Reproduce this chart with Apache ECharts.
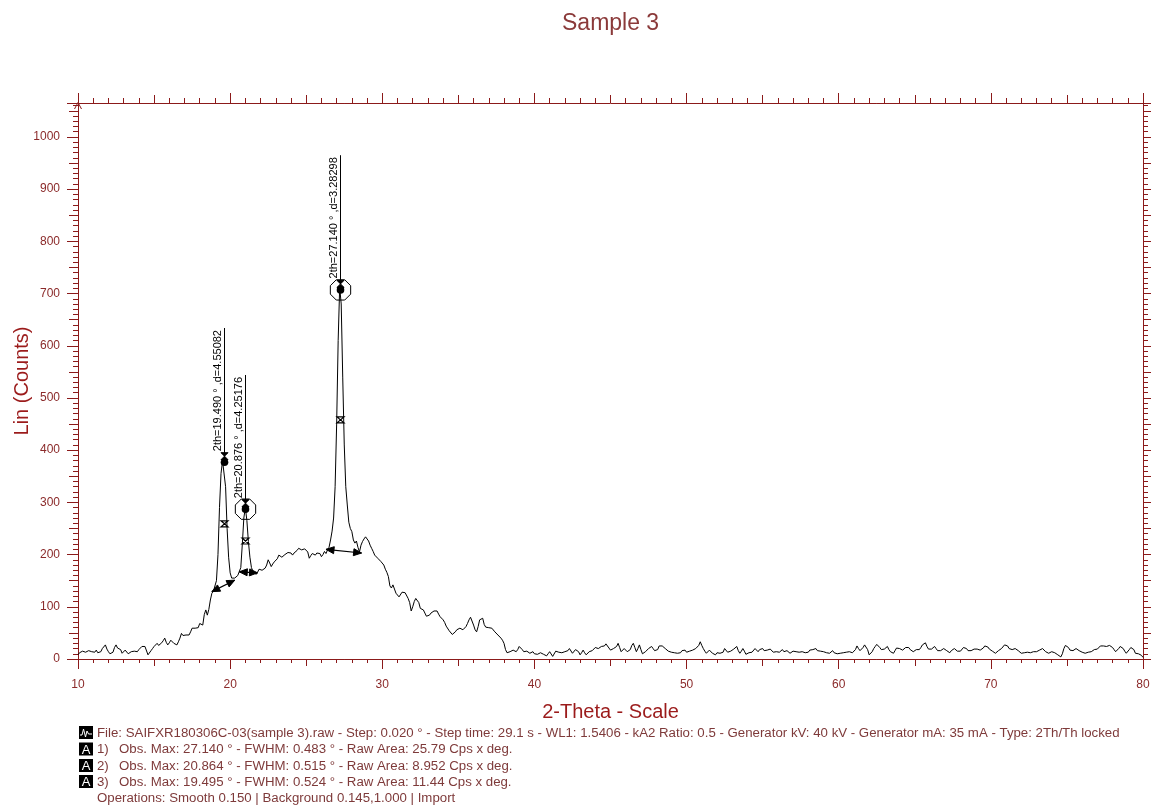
<!DOCTYPE html>
<html><head><meta charset="utf-8">
<script src="https://cdn.jsdelivr.net/npm/echarts@6/dist/echarts.min.js"></script>
<style>html,body{margin:0;padding:0;background:#fff}#c{width:1154px;height:806px}</style>
</head><body><div id="c"></div>
<script>
// ---------- data ----------
const thetaStart = 10;   // 2-Theta of first sample (deg)
const thetaStep = 0.1;   // sampling step (deg)
const counts = [
  8,12,11,15,17,13,14,16,17,14,
  11,13,17,12,10,14,20,23,27,19,
  14,10,8,13,22,27,21,24,18,11,
  13,17,15,10,12,14,11,15,17,14,
  18,20,24,21,24,22,8,5,16,20,
  24,22,30,26,24,31,35,40,32,27,
  31,36,33,30,28,27,33,40,49,45,
  43,46,48,46,52,59,57,59,62,60,
  68,66,65,85,94,84,95,113,126,130,
  133,150,200,290,355,380,383,330,250,195,
  165,155,152,155,158,160,163,175,220,270,
  290,265,225,195,175,168,165,162,166,172,
  174,170,172,174,180,190,184,177,182,186,
  186,192,199,196,195,196,200,202,204,206,
  203,199,203,206,208,212,210,209,210,211,
  212,205,193,198,202,200,199,203,206,202,
  196,200,206,202,209,214,228,245,270,330,
  450,610,712,680,540,410,330,295,262,250,
  244,228,222,226,214,205,218,225,230,234,
  235,226,218,212,206,199,197,193,190,187,
  184,180,172,166,158,140,136,142,134,126,
  124,119,121,128,130,127,126,116,108,92,
  100,110,116,119,108,97,96,94,88,82,
  83,84,88,91,92,94,92,86,81,78,
  75,70,63,60,54,51,47,46,52,56,
  58,59,57,56,58,62,68,75,80,78,
  65,56,52,62,75,77,78,66,61,59,
  60,58,59,56,52,49,46,43,40,36,
  30,18,12,11,14,12,17,15,14,18,
  24,26,18,14,13,15,17,11,12,14,
  10,7,9,11,12,11,9,7,6,10,
  14,11,5,8,15,17,13,11,12,13,
  14,12,16,20,17,11,13,18,20,14,
  8,12,17,12,8,11,14,17,16,19,
  22,24,20,21,24,22,25,29,26,21,
  17,18,20,20,24,30,22,14,17,20,
  18,14,11,18,26,30,22,14,20,27,
  18,10,8,14,17,20,22,24,20,16,
  14,18,25,27,25,24,20,17,15,14,
  13,10,12,15,11,14,12,16,19,17,
  13,11,15,13,17,14,20,18,26,33,
  26,20,15,11,14,17,14,11,9,8,
  12,14,11,8,13,20,17,13,11,15,
  17,19,22,24,16,11,15,20,15,9,
  8,12,15,13,16,20,17,14,18,21,
  20,16,14,17,15,19,17,13,16,14,
  17,13,16,18,14,12,16,14,11,13,
  15,12,14,17,13,11,14,15,12,10,
  13,17,14,18,15,20,16,13,15,12,
  14,11,12,15,11,13,16,12,14,10,
  13,11,9,12,15,13,10,14,11,12,
  13,18,25,20,16,17,22,27,30,18,
  8,6,14,20,24,28,30,22,18,17,
  19,22,24,18,14,12,11,16,21,24,
  20,18,17,19,22,24,22,18,15,14,
  16,18,20,18,22,27,30,31,24,19,
  17,19,22,24,20,16,14,16,19,20,
  20,16,13,12,16,19,20,17,15,14,
  15,18,22,24,20,16,14,16,18,19,
  20,19,18,17,17,21,25,27,23,19,
  17,15,13,11,12,16,19,20,23,27,
  29,25,20,17,18,19,20,20,16,13,
  11,14,12,15,13,10,12,11,14,12,
  14,15,17,19,20,18,14,12,11,13,
  14,14,12,10,8,6,4,10,20,26,
  27,22,17,14,16,18,20,18,16,14,
  13,12,11,11,13,14,14,16,18,20,
  19,22,25,27,25,24,24,25,26,27,
  22,18,14,15,20,24,25,20,15,11,
  13,18,22,24,18,11,8,10,11,7,
  3
];

// peak annotations
const peakTheta  = [19.6, 21.0, 27.22];
const peakTop    = [377, 287, 707];
const labelTop   = [634, 544, 965];
const halfHeight = [259, 226, 458];
const baseLeft   = [[18.8, 129], [20.6, 167], [26.3, 210]];
const baseRight  = [[20.3, 151], [21.8, 165], [28.64, 203]];
const circled    = [false, true, true];
const peakLabels = ['2th=19.490 ° ,d=4.55082', '2th=20.876 ° ,d=4.25176', '2th=27.140 ° ,d=3.28298'];

// axis ranges
const xMin = 10, xMax = 80;
const yMin = 0, yMax = 1065;

// texts
const titleText = 'Sample 3';
const xName = '2-Theta - Scale';
const yName = 'Lin (Counts)';
const fileLine = 'File: SAIFXR180306C-03(sample 3).raw - Step: 0.020 ° - Step time: 29.1 s - WL1: 1.5406 - kA2 Ratio: 0.5 - Generator kV: 40 kV - Generator mA: 35 mA - Type: 2Th/Th locked';
const peakNums = ['1)', '2)', '3)'];
const peakLines = [
  'Obs. Max: 27.140 ° - FWHM: 0.483 ° - Raw Area: 25.79 Cps x deg.',
  'Obs. Max: 20.864 ° - FWHM: 0.515 ° - Raw Area: 8.952 Cps x deg.',
  'Obs. Max: 19.495 ° - FWHM: 0.524 ° - Raw Area: 11.44 Cps x deg.'
];
const opsLine = 'Operations: Smooth 0.150 | Background 0.145,1.000 | Import';

// ---------- chart ----------
const FONT = '"Liberation Sans", Arial, sans-serif';
const AX = '#8b1a1a';
const LBL = '#8b2a2a';
const FT = '#7e3a3a';
const FS = 13.25;

const seriesData = counts.map((v, i) => [+(thetaStart + i * thetaStep).toFixed(2), v]);

function xAx(pos, interval, len, main) {
  return {
    type: 'value', position: pos, min: xMin, max: xMax, interval: interval,
    name: (main && pos === 'bottom') ? xName : '',
    nameLocation: 'middle', nameGap: 43, nameMoveOverlap: false,
    nameTextStyle: { color: '#9b1b1b', fontSize: 20, fontFamily: FONT },
    axisLine: { show: main, onZero: false, lineStyle: { color: AX, width: 1 } },
    axisTick: { show: true, length: len, lineStyle: { color: AX, width: 1 } },
    axisLabel: { show: main && pos === 'bottom', color: LBL, fontSize: 12, fontFamily: FONT, margin: 20 },
    splitLine: { show: false }
  };
}
function yAx(pos, interval, len, main) {
  return {
    type: 'value', position: pos, min: yMin, max: yMax, interval: interval,
    name: (main && pos === 'left') ? yName : '',
    nameLocation: 'middle', nameGap: 46, nameMoveOverlap: false,
    nameTextStyle: { color: '#9b1b1b', fontSize: 20, fontFamily: FONT },
    axisLine: { show: main, onZero: false, lineStyle: { color: AX, width: 1 } },
    axisTick: { show: true, length: len, lineStyle: { color: AX, width: 1 } },
    axisLabel: { show: main && pos === 'left', color: LBL, fontSize: 12, fontFamily: FONT, margin: 18,
      formatter: v => (v % 100 === 0 ? String(v) : '') },
    splitLine: { show: false }
  };
}

function arrowHead(tip, from) {
  const dx = tip[0] - from[0], dy = tip[1] - from[1];
  const L = Math.sqrt(dx * dx + dy * dy) || 1;
  const ux = dx / L, uy = dy / L;
  const bx = tip[0] - ux * 8, by = tip[1] - uy * 8;
  return { type: 'polygon', shape: { points: [[tip[0], tip[1]], [bx - uy * 3.5, by + ux * 3.5], [bx + uy * 3.5, by - ux * 3.5]] },
    style: { fill: '#000', stroke: '#000', lineWidth: 1 } };
}

function renderPeak(params, api) {
  const i = params.dataIndex;
  const t = peakTheta[i];
  const pTop = api.coord([t, peakTop[i]]);
  const pLab = api.coord([t, labelTop[i]]);
  const pHalf = api.coord([t, halfHeight[i]]);
  const pL = api.coord(baseLeft[i]);
  const pR = api.coord(baseRight[i]);
  const x = Math.round(pTop[0]) + 0.5;
  const ch = [];
  ch.push({ type: 'line', shape: { x1: x, y1: pTop[1] - 6, x2: x, y2: pLab[1] }, style: { stroke: '#000', lineWidth: 1 } });
  ch.push({ type: 'text', x: x - 1.5, y: pLab[1] + 2, rotation: Math.PI / 2,
    style: { text: peakLabels[i], fill: '#000', fontSize: 11, fontFamily: FONT, align: 'right', verticalAlign: 'bottom' } });
  ch.push({ type: 'circle', shape: { cx: x, cy: pTop[1], r: 3.8 }, style: { fill: '#000' } });
  const hy = pTop[1] - 6;
  ch.push({ type: 'polygon', shape: { points: [[x - 3.5, hy - 3.5], [x + 3.5, hy - 3.5], [x - 3.5, hy + 3.5], [x + 3.5, hy + 3.5]] },
    style: { fill: '#000', stroke: '#000', lineWidth: 1 } });
  const fy = pHalf[1];
  ch.push({ type: 'polygon', shape: { points: [[x - 3.5, fy - 3], [x + 3.5, fy - 3], [x - 3.5, fy + 3], [x + 3.5, fy + 3]] },
    style: { fill: 'none', stroke: '#000', lineWidth: 1.2 } });
  if (circled[i]) {
    const pts = [];
    for (let k = 0; k < 8; k++) {
      const a = Math.PI / 8 + k * Math.PI / 4;
      pts.push([x + 11 * Math.cos(a), pTop[1] + 11 * Math.sin(a)]);
    }
    ch.push({ type: 'polygon', shape: { points: pts }, style: { fill: 'none', stroke: '#000', lineWidth: 1 } });
  }
  ch.push({ type: 'line', shape: { x1: pL[0], y1: pL[1], x2: pR[0], y2: pR[1] }, style: { stroke: '#000', lineWidth: 1.2 } });
  ch.push(arrowHead(pL, pR));
  ch.push(arrowHead(pR, pL));
  return { type: 'group', children: ch };
}

// footer graphics
const footerY = [733, 749.5, 766, 782, 798];
const graphics = [];
// open caret at the top of the y axis
graphics.push({ type: 'polyline', shape: { points: [[74.5, 109], [78, 102.5], [81.5, 109]] }, style: { stroke: AX, lineWidth: 1, fill: 'none' } });
graphics.push({ type: 'rect', shape: { x: 79, y: footerY[0] - 7, width: 14, height: 13 }, style: { fill: '#000' } });
graphics.push({ type: 'polyline', shape: { points: [[80, footerY[0] + 2], [82, footerY[0] + 2], [83.5, footerY[0] - 4], [85.5, footerY[0] + 4], [87, footerY[0] - 2], [88.5, footerY[0] + 1], [92, footerY[0] + 1]] },
  style: { stroke: '#fff', lineWidth: 1, fill: 'none' } });
graphics.push({ type: 'text', x: 97, y: footerY[0], style: { text: fileLine, fill: FT, fontSize: FS, fontFamily: FONT, verticalAlign: 'middle' } });
for (let k = 0; k < 3; k++) {
  const yy = footerY[k + 1];
  graphics.push({ type: 'rect', shape: { x: 79, y: yy - 7, width: 14, height: 13 }, style: { fill: '#000' } });
  graphics.push({ type: 'text', x: 86, y: yy + 0.5, style: { text: 'A', fill: '#fff', fontSize: 13, fontFamily: FONT, align: 'center', verticalAlign: 'middle' } });
  graphics.push({ type: 'text', x: 97, y: yy, style: { text: peakNums[k], fill: FT, fontSize: FS, fontFamily: FONT, verticalAlign: 'middle' } });
  graphics.push({ type: 'text', x: 119, y: yy, style: { text: peakLines[k], fill: FT, fontSize: FS, fontFamily: FONT, verticalAlign: 'middle' } });
}
graphics.push({ type: 'text', x: 97, y: footerY[4], style: { text: opsLine, fill: FT, fontSize: FS, fontFamily: FONT, verticalAlign: 'middle' } });

const chart = echarts.init(document.getElementById('c'), null, { renderer: 'canvas' });
chart.setOption({
  backgroundColor: '#fff',
  animation: false,
  title: { text: titleText, left: 557, top: 7, textStyle: { color: '#8b3a3a', fontSize: 23, fontWeight: 'normal', fontFamily: FONT } },
  grid: { left: 78, right: 11, top: 103, bottom: 147, containLabel: false, outerBoundsMode: 'none' },
  xAxis: [
    xAx('bottom', 10, 10, true), xAx('bottom', 5, 7, false), xAx('bottom', 1, 4, false),
    xAx('top', 10, 10, true), xAx('top', 5, 8, false), xAx('top', 1, 5, false)
  ],
  yAxis: [
    yAx('left', 100, 11, true), yAx('left', 50, 9, false), yAx('left', 10, 5, false),
    yAx('right', 100, 8, true), yAx('right', 50, 8, false), yAx('right', 10, 5, false)
  ],
  series: [
    { type: 'line', xAxisIndex: 0, yAxisIndex: 0, data: seriesData, showSymbol: false, symbol: 'none',
      lineStyle: { color: '#000', width: 1 }, itemStyle: { color: '#000' }, silent: true, z: 2 },
    { type: 'custom', xAxisIndex: 0, yAxisIndex: 0, coordinateSystem: 'cartesian2d',
      data: peakTheta.map((t, i) => [t, peakTop[i]]), encode: { x: 0, y: 1 },
      renderItem: renderPeak, clip: false, silent: true, z: 3 }
  ],
  graphic: graphics
});
</script></body></html>
